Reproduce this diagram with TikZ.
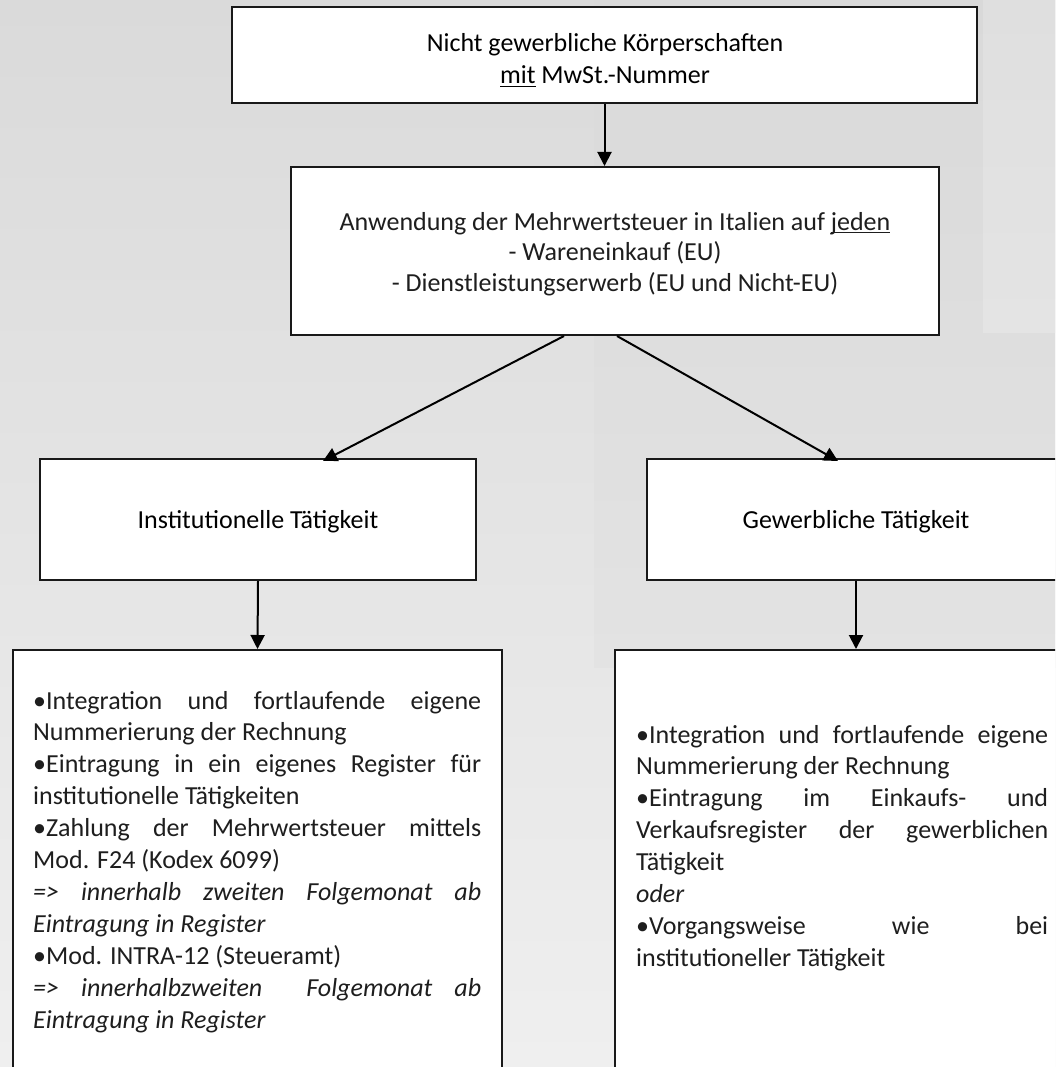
\documentclass[tikz,border=0pt]{standalone}
\usepackage{fontspec}
\setmainfont{Carlito}
\usetikzlibrary{arrows.meta}
\definecolor{bgtop}{HTML}{DADADA}
\definecolor{bgbot}{HTML}{EFEFEF}
\definecolor{regAtop}{HTML}{D9D9D9}
\definecolor{regAbot}{HTML}{E3E3E3}
\definecolor{regBtop}{HTML}{DFDFDF}
\definecolor{regBbot}{HTML}{E4E4E4}
\definecolor{lighttext}{HTML}{1E1E1E}
\newcommand\myul[1]{\setbox0=\hbox{#1}\leavevmode\rlap{\rule[-3pt]{\wd0}{1.3pt}}\box0\relax}
\newcommand\jline[2]{\makebox[#1][s]{#2}}
\tikzset{
  boxstyle/.style={draw=black!90, line width=2pt, fill=white, inner sep=0pt},
  arr/.style={line width=2pt, draw=black, -{Triangle[length=14pt,width=14pt]}},
  txt/.style={inner sep=0pt, anchor=base},
  bodytxt/.style={inner sep=0pt, anchor=base west, text=lighttext},
}
\begin{document}
\begin{tikzpicture}[x=1pt,y=-1pt]
\useasboundingbox (0,0) rectangle (1055,1067);
\clip (0,0) rectangle (1055,1067);
% background
\shade[top color=bgtop, bottom color=bgbot] (0,0) rectangle (1055,1067);
\shade[top color=regAtop, bottom color=regAbot] (594,0) rectangle (1055,667);
\shade[top color=regBtop, bottom color=regBbot] (983,0) rectangle (1055,332);
% boxes
\node[boxstyle, minimum width=745pt, minimum height=96pt] (top) at (604.5,55) {};
\node[boxstyle, minimum width=648pt, minimum height=168pt] (mid) at (615,251) {};
\node[boxstyle, minimum width=436pt, minimum height=121pt] (instL) at (258,519.5) {};
\node[boxstyle, minimum width=418pt, minimum height=121pt] (instR) at (856,519.5) {};
\node[boxstyle, minimum width=489pt, minimum height=460pt] (bodyL) at (257.5,880) {};
\node[boxstyle, minimum width=455pt, minimum height=460pt] (bodyR) at (842,880) {};
% texts
\node[txt] (t1) at (605,52) {\parbox[t]{700pt}{\centering\fontsize{26}{32}\selectfont
Nicht gewerbliche Körperschaften\\ \myul{mit} MwSt.-Nummer}};
\node[txt, text=lighttext] (t2) at (615,230) {\parbox[t]{620pt}{\centering\fontsize{26}{30.5}\selectfont
Anwendung der Mehrwertsteuer in Italien auf \myul{jeden}\\
- Wareneinkauf (EU)\\
- Dienstleistungserwerb (EU und Nicht-EU)}};
\node[txt] (t3) at (258,528) {\fontsize{26}{31}\selectfont Institutionelle Tätigkeit};
\node[txt] (t4) at (856,528) {\fontsize{26}{31}\selectfont Gewerbliche Tätigkeit};
\node[bodytxt] (t5) at (33,709) {\parbox[t]{448pt}{\raggedright\fontsize{26}{31.9}\selectfont
\jline{448pt}{•Integration und fortlaufende eigene}\\
Nummerierung der Rechnung\\
\jline{448pt}{•Eintragung in ein eigenes Register für}\\
institutionelle Tätigkeiten\\
\jline{448pt}{•Zahlung der Mehrwertsteuer mittels}\\
Mod. F24 (Kodex 6099)\\
\jline{448pt}{\itshape => innerhalb zweiten Folgemonat ab}\\
\textit{Eintragung in Register}\\
•Mod. INTRA-12 (Steueramt)\\
\jline{448pt}{\itshape => innerhalbzweiten \ Folgemonat ab}\\
\textit{Eintragung in Register}}};
\node[bodytxt] (t6) at (636,743) {\parbox[t]{412pt}{\raggedright\fontsize{26}{31.9}\selectfont
\jline{412pt}{•Integration und fortlaufende eigene}\\
Nummerierung der Rechnung\\
\jline{412pt}{•Eintragung im Einkaufs- und}\\
\jline{412pt}{Verkaufsregister der gewerblichen}\\
Tätigkeit\\
\textit{oder}\\
\jline{412pt}{•Vorgangsweise wie bei}\\
institutioneller Tätigkeit}};
% connectors
\draw[arr] (top.south) -- (top.south |- mid.north);
\draw[arr] ([xshift=-51pt]mid.south) -- ([xshift=65pt,yshift=-3pt]instL.north);
\draw[arr] ([xshift=2pt]mid.south) -- ([xshift=-18pt,yshift=-3pt]instR.north);
\draw[arr] (instL.south) -- (bodyL.north);
\draw[arr] (instR.south) -- (instR.south |- bodyR.north);
\end{tikzpicture}
\end{document}
